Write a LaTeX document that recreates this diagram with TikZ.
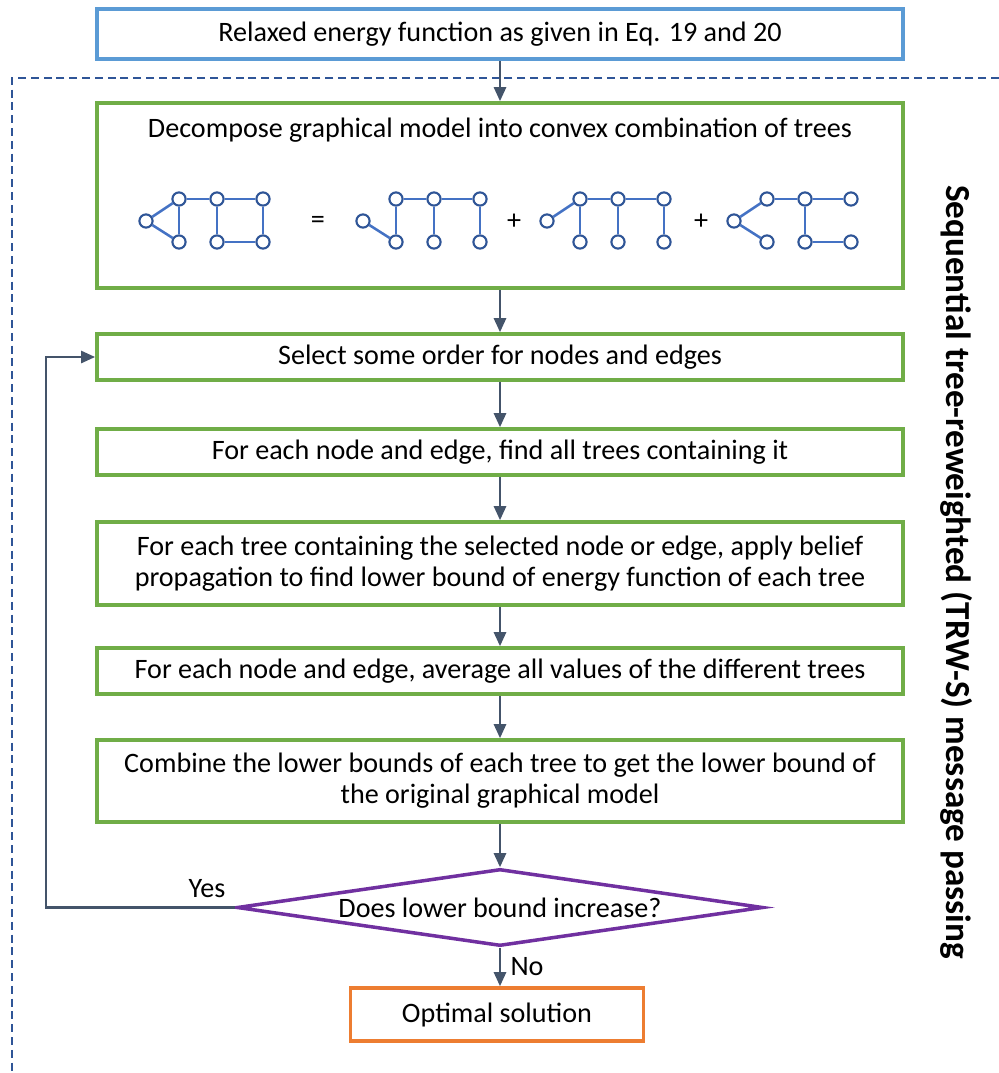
\documentclass[tikz,border=0pt]{standalone}
\usepackage{fontspec}
\setmainfont{Carlito}
\usetikzlibrary{arrows.meta,shapes.geometric}
\definecolor{boxblue}{RGB}{91,155,213}
\definecolor{boxgreen}{RGB}{112,173,71}
\definecolor{boxpurple}{RGB}{112,48,160}
\definecolor{boxorange}{RGB}{237,125,49}
\definecolor{flowgray}{RGB}{68,84,106}
\definecolor{treeblue}{RGB}{68,114,196}
\definecolor{treedark}{RGB}{47,85,151}

\begin{document}
\begin{tikzpicture}[x=0.025cm,y=-0.025cm,
    every node/.style={font=\fontsize{20}{22}\selectfont},
    stepbox/.style={draw=boxgreen,line width=2.5pt,minimum width=20.15cm,minimum height=1.15cm,align=center,inner sep=0pt},
    flow/.style={draw=flowgray,line width=1.8pt,-{Triangle[length=0.35cm,width=0.3cm]}},
    gn/.style={circle,draw=treedark,fill=white,line width=1.5pt,minimum size=0.33cm,inner sep=0pt},
    ge/.style={treeblue,line width=1.8pt}]
  \useasboundingbox (0,0) rectangle (999,1073);
  % dashed frame of the TRW-S loop
  \draw[treedark,dash pattern=on 0.2cm off 0.12cm,line width=0.8pt] (999,78) -- (12,78) -- (12,1073);

  \node[stepbox,draw=boxblue,minimum height=1.25cm] (relaxed) at (500,34) {Relaxed energy function as given in Eq. 19 and 20};
  \node[stepbox,minimum height=4.625cm] (decomp) at (500,195.5) {};
  \node (decomptitle) at (500,130) {Decompose graphical model into convex combination of trees};
  \node[stepbox] (select) at (500,357) {Select some order for nodes and edges};
  \node[stepbox] (find) at (500,452) {For each node and edge, find all trees containing it};
  \node[stepbox,minimum height=2.075cm] (belief) at (500,563.5) {For each tree containing the selected node or edge, apply belief\\propagation to find lower bound of energy function of each tree};
  \node[stepbox] (average) at (500,671) {For each node and edge, average all values of the different trees};
  \node[stepbox,minimum height=2.05cm] (combine) at (500,781) {Combine the lower bounds of each tree to get the lower bound of\\the original graphical model};
  \node[diamond,aspect=6.83,draw=boxpurple,line width=2.5pt,minimum width=13.15cm,minimum height=1.925cm,inner sep=0pt] (cond) at (500,907.5) {Does lower bound increase?};
  \node[stepbox,draw=boxorange,minimum width=7.325cm,minimum height=1.325cm] (optimal) at (497,1014.5) {Optimal solution};

  % trees
  \foreach \g/\ox in {1/179,2/396,3/580,4/767} {
    \node[gn] (g\g-l) at (\ox-33,221) {};
    \node[gn] (g\g-a) at (\ox,199) {};
    \node[gn] (g\g-b) at (\ox+38,199) {};
    \node[gn] (g\g-c) at (\ox+84,199) {};
    \node[gn] (g\g-d) at (\ox,242) {};
    \node[gn] (g\g-e) at (\ox+38,242) {};
    \node[gn] (g\g-f) at (\ox+84,242) {};
  }
  \foreach \u/\v in {1-l/1-a,1-l/1-d,1-a/1-d,1-a/1-b,1-b/1-c,1-b/1-e,1-c/1-f,1-e/1-f,
                     2-l/2-d,2-a/2-d,2-a/2-b,2-b/2-c,2-b/2-e,2-c/2-f,
                     3-l/3-a,3-a/3-d,3-a/3-b,3-b/3-c,3-b/3-e,3-c/3-f,
                     4-l/4-a,4-l/4-d,4-a/4-b,4-b/4-c,4-b/4-e,4-e/4-f}
    \draw[ge] (g\u) -- (g\v);
  \node (eq) at (318,222) {=};
  \node (plus1) at (514,222) {+};
  \node (plus2) at (701,222) {+};

  \draw[flow] (relaxed) -- (decomp);
  \draw[flow] (decomp) -- (select);
  \draw[flow] (select) -- (find);
  \draw[flow] (find) -- (belief);
  \draw[flow] (belief) -- (average);
  \draw[flow] (average) -- (combine);
  \draw[flow] (combine) -- (cond);
  \draw[flow] (cond.south) -- (cond.south |- optimal.north);
  \draw[flow] (cond.west) -- ++(-189,0) |- (select.west);
  \node (yes) at (207,889) {Yes};
  \node (no) at (527,967) {No};

  \node[rotate=-90,font=\fontsize{25}{29}\selectfont\bfseries] (title) at (957,572) {Sequential tree-reweighted (TRW-S) message passing};
\end{tikzpicture}
\end{document}
